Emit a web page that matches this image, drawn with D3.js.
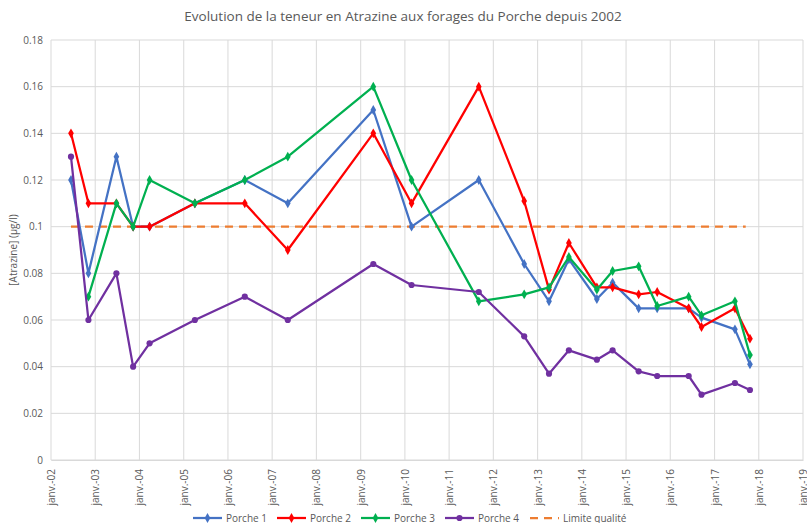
<!DOCTYPE html>
<html>
<head>
<meta charset="utf-8">
<script src="https://cdn.jsdelivr.net/npm/d3@7"></script>
<style>
  body { margin: 0; background: #fff; }
  text { font-family: "Open Sans", "Liberation Sans", sans-serif; fill: #595959; }
</style>
</head>
<body>
<div class="chart"></div>
<script>
// sample dates (shared by all wells)
const dates = ['2002-06-15', '2002-11-06', '2003-06-25', '2003-11-10', '2004-03-25',
  '2005-04-03', '2006-05-20', '2007-05-10', '2009-04-15', '2010-02-25',
  '2011-09-03', '2012-09-12', '2013-04-05', '2013-09-16', '2014-05-05',
  '2014-09-12', '2015-04-15', '2015-09-15', '2016-06-01', '2016-09-15',
  '2017-06-18', '2017-10-20'];

const porche1 = [0.12, 0.08, 0.13, 0.10, 0.10, 0.11, 0.12, 0.11, 0.15, 0.10,
  0.12, 0.084, 0.068, 0.086, 0.069, 0.076, 0.065, 0.065, 0.065, 0.061, 0.056, 0.041];
const porche2 = [0.14, 0.11, 0.11, 0.10, 0.10, 0.11, 0.11, 0.09, 0.14, 0.11,
  0.16, 0.111, 0.073, 0.093, 0.074, 0.074, 0.071, 0.072, 0.065, 0.057, 0.065, 0.052];
const porche3 = [null, 0.07, 0.11, 0.10, 0.12, 0.11, 0.12, 0.13, 0.16, 0.12,
  0.068, 0.071, 0.074, 0.087, 0.073, 0.081, 0.083, 0.066, 0.070, 0.062, 0.068, 0.045];
const porche4 = [0.13, 0.06, 0.08, 0.04, 0.05, 0.06, 0.07, 0.06, 0.084, 0.075,
  0.072, 0.053, 0.037, 0.047, 0.043, 0.047, 0.038, 0.036, 0.036, 0.028, 0.033, 0.030];

const limiteDates = ['2002-06-15', '2017-09-15'];
const limite = [0.10, 0.10];

const yTicks = [0, 0.02, 0.04, 0.06, 0.08, 0.1, 0.12, 0.14, 0.16, 0.18];
const seriesNames = ['Porche 1', 'Porche 2', 'Porche 3', 'Porche 4', 'Limite qualité'];
const colors = ['#4472C4', '#FF0000', '#00B050', '#7030A0', '#ED7D31'];

const W = 807, H = 523;
const margin = {top: 40, right: 4, bottom: 63, left: 51};
const w = W - margin.left - margin.right;
const h = H - margin.top - margin.bottom;

const parse = d3.timeParse('%Y-%m-%d');
const fmtYear = d3.timeFormat('%y');

const svg = d3.select('.chart').append('svg')
  .attr('width', W)
  .attr('height', H);

const g = svg.append('g')
  .attr('transform', `translate(${margin.left},${margin.top})`);

const x = d3.scaleTime()
  .domain([new Date(2002, 0, 1), new Date(2019, 0, 1)])
  .range([0, w]);
const y = d3.scaleLinear()
  .domain([0, 0.18])
  .range([h, 0]);

const years = d3.range(2002, 2020).map(yr => new Date(yr, 0, 1));

// gridlines
g.append('g').selectAll('line.hg')
  .data(yTicks).enter().append('line')
    .attr('x1', 0).attr('x2', w)
    .attr('y1', d => y(d)).attr('y2', d => y(d))
    .attr('stroke', '#d9d9d9').attr('stroke-width', 1);
g.append('g').selectAll('line.vg')
  .data(years).enter().append('line')
    .attr('x1', d => x(d)).attr('x2', d => x(d))
    .attr('y1', 0).attr('y2', h)
    .attr('stroke', '#d9d9d9').attr('stroke-width', 1);

// y axis
const yAxis = g.append('g')
  .call(d3.axisLeft(y).tickValues(yTicks).tickSize(0).tickPadding(8)
    .tickFormat(d => d === 0 ? '0' : d3.format('')(+d.toFixed(2))));
yAxis.select('.domain').remove();
yAxis.selectAll('text').style('font-size', '10px').attr('fill', '#595959');

// x axis
const xAxis = g.append('g')
  .attr('transform', `translate(0,${h})`)
  .call(d3.axisBottom(x).tickValues(years).tickSize(0)
    .tickFormat(d => 'janv.-' + fmtYear(d)));
xAxis.select('.domain').attr('stroke', '#d9d9d9');
xAxis.selectAll('text')
  .style('font-size', '10px')
  .attr('fill', '#595959')
  .attr('text-anchor', 'end')
  .attr('transform', 'rotate(-90)')
  .attr('x', -9)
  .attr('y', 0)
  .attr('dy', '0.35em');

// y label
svg.append('text')
  .attr('transform', `translate(17,${margin.top + h / 2}) rotate(-90)`)
  .attr('text-anchor', 'middle')
  .style('font-size', '10px')
  .text('[Atrazine] (µg/l)');

// title
svg.append('text')
  .attr('x', 403).attr('y', 21)
  .attr('text-anchor', 'middle')
  .style('font-size', '13.5px')
  .text('Evolution  de la teneur en Atrazine aux forages du Porche depuis 2002');

const allSeries = [porche1, porche2, porche3, porche4];

const line = d3.line()
  .defined(d => d.v !== null)
  .x(d => x(d.date))
  .y(d => y(d.v));

// limit line
const limData = limiteDates.map((d, i) => ({date: parse(d), v: limite[i]}));
g.append('path')
  .datum(limData)
  .attr('fill', 'none')
  .attr('stroke', colors[4])
  .attr('stroke-width', 2.25)
  .attr('stroke-dasharray', '8,6')
  .attr('d', line);

const diamond = d3.symbol().type(d3.symbolDiamond).size(28);
const circle = d3.symbol().type(d3.symbolCircle).size(30);

allSeries.forEach((vals, si) => {
  const data = dates.map((d, i) => ({date: parse(d), v: vals[i]})).filter(d => d.v !== null);
  const sg = g.append('g');
  sg.append('path')
    .datum(data)
    .attr('fill', 'none')
    .attr('stroke', colors[si])
    .attr('stroke-width', 2.25)
    .attr('stroke-linejoin', 'round')
    .attr('d', line);
  sg.selectAll('path.mk')
    .data(data).enter().append('path')
      .attr('class', 'mk')
      .attr('d', si === 3 ? circle : diamond)
      .attr('fill', colors[si])
      .attr('transform', d => `translate(${x(d.date)},${y(d.v)})`);
});

// legend
const legX = [193, 277, 361, 445, 530];
const legY = 518;
const leg = svg.append('g');
seriesNames.forEach((name, i) => {
  const lg = leg.append('g').attr('transform', `translate(${legX[i]},${legY})`);
  lg.append('line')
    .attr('x1', 0).attr('x2', 29)
    .attr('stroke', colors[i])
    .attr('stroke-width', 2.25)
    .attr('stroke-dasharray', i === 4 ? '8,6' : null);
  if (i < 4) {
    lg.append('path')
      .attr('d', i === 3 ? circle : diamond)
      .attr('fill', colors[i])
      .attr('transform', 'translate(14.5,0)');
  }
  lg.append('text')
    .attr('x', 33).attr('dy', '0.35em')
    .style('font-size', '10px')
    .text(name);
});
</script>
</body>
</html>
